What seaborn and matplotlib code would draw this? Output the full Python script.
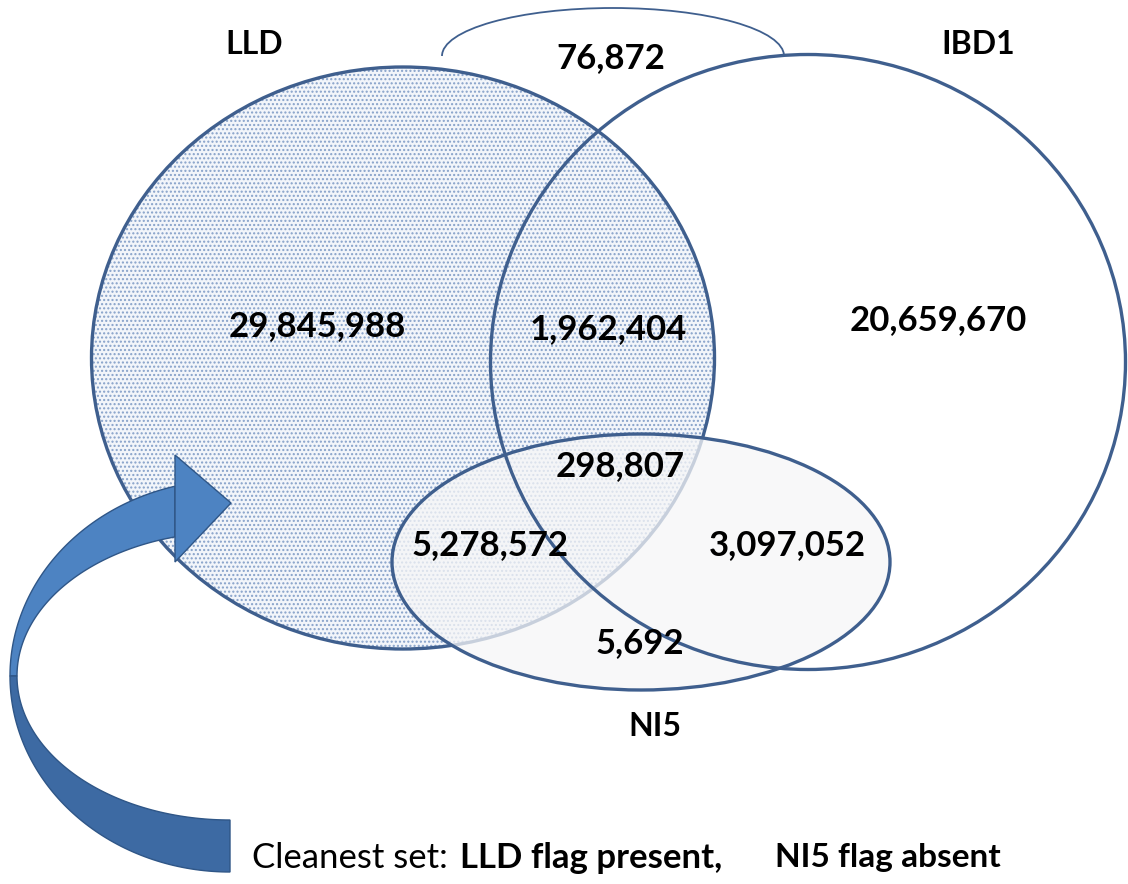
import numpy as np
import matplotlib.pyplot as plt
import seaborn as sns
from matplotlib.patches import Ellipse, Arc, Polygon

# Region counts of the three-way overlap
set_names = ['LLD', 'IBD1', 'NI5']
region_labels = ['LLD only', 'LLD & IBD1', 'IBD1 only', 'all three',
                 'LLD & NI5', 'IBD1 & NI5', 'NI5 only', 'LLD & IBD1 (outside)']
region_counts = [29845988, 1962404, 20659670, 298807,
                 5278572, 3097052, 5692, 76872]
footer_plain = 'Cleanest set:'
footer_bold = ['LLD flag present,', 'NI5 flag absent']

sns.set_theme(style='white')
plt.rcParams['font.family'] = ['Lato', 'DejaVu Sans']

fig = plt.figure(figsize=(11.28, 8.84), dpi=100)
ax = fig.add_axes([0, 0, 1, 1])
ax.set_xlim(0, 1128)
ax.set_ylim(884, 0)
ax.set_aspect('equal')
ax.axis('off')

line_col = '#3f5f8e'

# LLD: dotted fill, then outline
ax.add_patch(Ellipse((403, 358), 623, 582, facecolor='#f2f5fa', edgecolor='#86a1c9',
                     hatch='....', linewidth=0, zorder=1))
ax.add_patch(Ellipse((403, 358), 623, 582, facecolor='none', edgecolor=line_col,
                     linewidth=2.4, zorder=2))

# NI5 translucent fill drawn over LLD
ax.add_patch(Ellipse((641, 562), 498, 256, facecolor='#f6f6f7', edgecolor='none',
                     alpha=0.75, zorder=3))

# IBD1 outline
ax.add_patch(Ellipse((808, 362), 635, 615, facecolor='none', edgecolor=line_col,
                     linewidth=2.4, zorder=4))
# NI5 outline
ax.add_patch(Ellipse((641, 562), 498, 256, facecolor='none', edgecolor=line_col,
                     linewidth=2.4, zorder=4))

# arc for LLD & IBD1 outside NI5 (y axis is inverted, so upper half is 180-360)
ax.add_patch(Arc((613, 56), 342, 96, theta1=180, theta2=360, edgecolor=line_col,
                 linewidth=1.3, zorder=4))

# curved arrow
cx, cy = 230, 676
def ring(rx, ry, t0, t1):
    t = np.radians(np.linspace(t0, t1, 80))
    return np.column_stack([cx + rx * np.cos(t), cy - ry * np.sin(t)])

upper = np.vstack([ring(220, 196, 104.5, 180), ring(213, 144, 180, 105)])
lower = np.vstack([ring(220, 196, 180, 270), ring(213, 144, 270, 180)])
ax.add_patch(Polygon(upper, closed=True, facecolor='#4d83c2', edgecolor='#2f5687',
                     linewidth=1, zorder=5))
ax.add_patch(Polygon(lower, closed=True, facecolor='#3d6aa3', edgecolor='#2f5687',
                     linewidth=1, zorder=5))
ax.add_patch(Polygon([[175, 455], [231, 503], [175, 562]], closed=True,
                     facecolor='#4d83c2', edgecolor='#2f5687', linewidth=1, zorder=6))

# set names
name_pos = [(254, 44), (978, 45), (655, 727)]
for name, (x, y) in zip(set_names, name_pos):
    ax.text(x, y, name, ha='center', va='center', fontsize=23, fontweight='bold',
            color='black', zorder=7)

count_pos = [(317, 326), (608, 329), (938, 320), (620, 466),
             (490, 545), (787, 545), (640, 643), (611, 58)]
for c, (x, y) in zip(region_counts, count_pos):
    ax.text(x, y, f'{c:,}', ha='center', va='center', fontsize=25,
            fontweight='bold', color='black', zorder=7)

# footer
ax.text(252, 858, footer_plain, ha='left', va='center', fontsize=25, color='black', zorder=7)
ax.text(460, 858, footer_bold[0], ha='left', va='center', fontsize=25,
        fontweight='bold', color='black', zorder=7)
ax.text(775, 858, footer_bold[1], ha='left', va='center', fontsize=24,
        fontweight='bold', color='black', zorder=7)

fig.savefig('out.png', dpi=100)
